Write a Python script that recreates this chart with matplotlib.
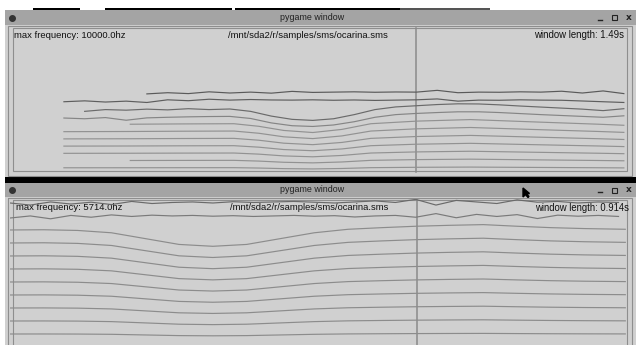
import numpy as np
import matplotlib
matplotlib.use("Agg")
import matplotlib.pyplot as plt
from matplotlib.patches import Rectangle, Polygon
from matplotlib import font_manager

# ---------------- data ----------------
FILE_NAME = "/mnt/sda2/r/samples/sms/ocarina.sms"
TOP_MAX_FREQ = 10000.0
TOP_WINDOW = 1.49
BOT_MAX_FREQ = 5714.0
BOT_WINDOW = 0.914

# top window: smooth partial tracks (time in s, frequency in Hz)
top_t_coarse = [0.13, 0.29, 0.41, 0.54, 0.60, 0.66, 0.73, 0.80, 0.87, 0.98, 1.11, 1.28, 1.42, 1.48]
top_h1 = [488, 490, 493, 495, 470, 430, 410, 440, 495, 520, 535, 510, 490, 480]
top_h2 = [np.nan, 980, 986, 990, 940, 860, 820, 880, 990, 1040, 1070, 1020, 980, 960]
top_h3 = [1464, 1470, 1479, 1485, 1410, 1290, 1230, 1320, 1485, 1560, 1605, 1530, 1470, 1440]
top_h4 = [1952, 1960, 1972, 1980, 1880, 1720, 1640, 1760, 1980, 2080, 2140, 2040, 1960, 1920]
top_h5 = [2440, 2450, 2465, 2475, 2350, 2150, 2050, 2200, 2475, 2600, 2675, 2550, 2450, 2400]
top_h6 = [2928, 2940, 2958, 2970, 2820, 2580, 2460, 2640, 2970, 3120, 3210, 3060, 2940, 2880]
top_h7 = [np.nan, 3430, 3451, 3465, 3290, 3010, 2870, 3080, 3465, 3640, 3745, 3570, 3430, 3360]

# top window: noisy partial tracks
top_t_fine = [0.13, 0.18, 0.23, 0.28, 0.33, 0.38, 0.43, 0.48, 0.53, 0.58, 0.63, 0.68, 0.73, 0.78,
              0.83, 0.88, 0.93, 0.98, 1.03, 1.08, 1.13, 1.18, 1.23, 1.28, 1.33, 1.38, 1.43, 1.48]
top_h8 = [3850, 3800, 3880, 3700, 3860, 3900, 3930, 3950, 3960, 3820, 3520, 3330, 3280, 3380,
          3600, 3900, 4080, 4160, 4220, 4270, 4270, 4220, 4150, 4080, 4020, 3960, 3900, 4000]
top_h9 = [np.nan, 4300, 4420, 4380, 4450, 4400, 4480, 4420, 4460, 4300, 3980, 3760, 3690, 3800,
          4080, 4420, 4600, 4680, 4760, 4810, 4800, 4740, 4660, 4590, 4520, 4450, 4350, 4480]
top_h10 = [4950, 5010, 4930, 4990, 4900, 5080, 5020, 5120, 5060, 5100, 5070, 5060, 5080, 5050,
           5070, 5040, 5060, 5080, 5140, 4990, 5060, 5050, 5080, 5060, 5050, 5000, 4950, 4900]
top_h11 = [np.nan, np.nan, np.nan, np.nan, 5480, 5560, 5500, 5620, 5540, 5600, 5530, 5650, 5580, 5600,
           5620, 5590, 5610, 5600, 5720, 5560, 5600, 5590, 5620, 5600, 5660, 5540, 5680, 5500]

# bottom window: smooth partial tracks
bot_t_coarse = [0.0, 0.05, 0.10, 0.15, 0.20, 0.25, 0.30, 0.35, 0.40, 0.45, 0.50, 0.55, 0.60,
                0.65, 0.70, 0.75, 0.80, 0.85, 0.91]
bot_h1 = [502, 503, 500, 490, 465, 440, 432, 440, 465, 490, 505, 512, 518, 522, 525, 518, 512, 508, 505]
bot_h2 = [1004, 1006, 1000, 980, 930, 880, 864, 880, 930, 980, 1010, 1024, 1036, 1044, 1050, 1036, 1024, 1016, 1010]
bot_h3 = [1506, 1509, 1500, 1470, 1395, 1320, 1296, 1320, 1395, 1470, 1515, 1536, 1554, 1566, 1575, 1554, 1536, 1524, 1515]
bot_h4 = [2008, 2012, 2000, 1960, 1860, 1760, 1728, 1760, 1860, 1960, 2020, 2048, 2072, 2088, 2100, 2072, 2048, 2032, 2020]
bot_h5 = [2510, 2515, 2500, 2450, 2325, 2200, 2160, 2200, 2325, 2450, 2525, 2560, 2590, 2610, 2625, 2590, 2560, 2540, 2525]
bot_h6 = [3012, 3018, 3000, 2940, 2790, 2640, 2592, 2640, 2790, 2940, 3030, 3072, 3108, 3132, 3150, 3108, 3072, 3048, 3030]
bot_h7 = [3514, 3521, 3500, 3430, 3255, 3080, 3024, 3080, 3255, 3430, 3535, 3584, 3626, 3654, 3675, 3626, 3584, 3556, 3535]
bot_h8 = [4016, 4024, 4000, 3920, 3720, 3520, 3456, 3520, 3720, 3920, 4040, 4096, 4144, 4176, 4200, 4144, 4096, 4064, 4040]
bot_h9 = [4518, 4527, 4500, 4410, 4185, 3960, 3888, 3960, 4185, 4410, 4545, 4608, 4662, 4698, 4725, 4662, 4608, 4572, 4545]

# bottom window: noisy partial tracks
bot_t_fine = [0.00, 0.03, 0.06, 0.09, 0.12, 0.15, 0.18, 0.21, 0.24, 0.27, 0.30, 0.33, 0.36, 0.39,
              0.42, 0.45, 0.48, 0.51, 0.54, 0.57, 0.60, 0.63, 0.66, 0.69, 0.72, 0.75, 0.78, 0.81,
              0.84, 0.87, 0.90]
bot_h10 = [4980, 5060, 4950, 5080, 5010, 5100, 5040, 5090, 5060, 5080, 5050, 5070, 5040, 5060,
           5080, 5050, 5070, 5020, 5060, 5080, 5010, 5150, 4990, 5120, 5040, 5110, 4960, 5090,
           5050, 5080, 5040]
bot_h11 = [5560, 5480, 5600, 5520, 5590, 5500, 5620, 5540, 5580, 5600, 5560, 5610, 5580, 5600,
           5620, 5590, 5560, 5600, 5640, 5580, 5700, 5480, 5660, 5600, 5540, 5680, 5590, 5620,
           5560, 5600, 5580]

# ---------------- figure ----------------
W, H = 636, 345
fig = plt.figure(figsize=(W / 100, H / 100), dpi=100)
fig.patch.set_facecolor("white")
bg = fig.add_axes([0, 0, 1, 1])
bg.set_xlim(0, W)
bg.set_ylim(H, 0)
bg.axis("off")

BODY = "#d0d0d0"
TITLE = "#a4a4a4"
FRAME = "#8e8e8e"
TXT = "#111111"
renderer = fig.canvas.get_renderer()

_names = {f.name for f in font_manager.fontManager.ttflist}
UI_FONT = "Liberation Sans Narrow" if "Liberation Sans Narrow" in _names else "Liberation Sans"


def fit_text(x, y, s, width, ha="left", color=TXT, family=UI_FONT):
    t = bg.text(x, y, s, ha=ha, va="center", fontsize=10, color=color, family=family, zorder=6)
    w = t.get_window_extent(renderer).width
    t.set_fontsize(10 * width / w)
    return t


# stray black strip at top
for x0, x1, c in [(33, 80, "black"), (105, 232, "black"), (235, 400, "black"), (400, 490, "#555555")]:
    bg.add_patch(Rectangle((x0, 7.5), x1 - x0, 2, color=c, lw=0))


def window(y_title, y_body_top, y_body_bot, y_inner_top, y_inner_bot):
    bg.add_patch(Rectangle((5, y_title), W - 5, y_body_top - y_title, color=TITLE, lw=0, zorder=1))
    bg.add_patch(Rectangle((5, y_body_top), W - 5, y_body_bot - y_body_top, color=BODY, lw=0, zorder=1))
    bg.add_patch(Rectangle((7.5, y_body_top + 0.5), 624, y_body_bot - y_body_top - 1.5,
                           fill=False, ec=FRAME, lw=0.8, zorder=2))
    bg.add_patch(Rectangle((12.5, y_inner_top), 614, y_inner_bot - y_inner_top,
                           fill=False, ec=FRAME, lw=0.8, zorder=2))
    yc = (y_title + y_body_top) / 2
    fit_text(312, yc, "pygame window", 64, ha="center", color="#202020")
    bg.plot([12], [yc], marker="o", ms=4, color="#333333", zorder=6)
    bg.plot([598, 602], [yc + 2, yc + 2], color="#222222", lw=1, zorder=6)
    bg.add_patch(Rectangle((612, yc - 2.5), 5, 5, fill=False, ec="#222222", lw=0.8, zorder=6))
    bg.text(629, yc, "x", ha="center", va="center", fontsize=6.5, color="#222222",
            family="DejaVu Sans", weight="bold", zorder=6)


window(10, 25, 177, 28, 171)
bg.add_patch(Rectangle((5, 177), W - 5, 6, color="black", lw=0, zorder=1))
window(183, 197, 360, 199.5, 360)

# cursor line
bg.plot([416, 416], [28, 172], color="#8a8a8a", lw=1.1, zorder=4)
bg.plot([417, 417], [199.5, 345], color="#8a8a8a", lw=1.1, zorder=4)

# mouse pointer
bg.add_patch(Polygon([[523, 188], [523, 197], [525.5, 194.5], [528, 197.5], [529, 196.5],
                      [526.5, 194], [529.5, 193.5]], closed=True, color="black", zorder=7))

# texts
fit_text(14, 35, "max frequency: %.1fhz" % TOP_MAX_FREQ, 112)
fit_text(228, 35, FILE_NAME, 159)
fit_text(624, 35, "window length: %gs" % TOP_WINDOW, 90, ha="right")
fit_text(16, 208, "max frequency: %.1fhz" % BOT_MAX_FREQ, 107)
fit_text(230, 208, FILE_NAME, 158)
fit_text(629, 208, "window length: %gs" % BOT_WINDOW, 94, ha="right")

# ---------------- track panels ----------------
top_ax = fig.add_axes([10 / W, (H - 175) / H, 618 / W, 148 / H])
top_ax.set_xlim(0, TOP_WINDOW)
top_ax.set_ylim(0, TOP_MAX_FREQ)
top_ax.axis("off")
top_ax.patch.set_alpha(0)

bot_ax = fig.add_axes([10 / W, (H - 347) / H, 618 / W, 148 / H])
bot_ax.set_xlim(0, BOT_WINDOW)
bot_ax.set_ylim(0, BOT_MAX_FREQ)
bot_ax.axis("off")
bot_ax.patch.set_alpha(0)

LW = 0.85
for tr in [top_h1, top_h2, top_h3, top_h4, top_h5, top_h6, top_h7]:
    top_ax.plot(top_t_coarse, tr, color="#929292", lw=LW, zorder=3)
for tr, c in [(top_h8, "#858585"), (top_h9, "#6a6a6a"), (top_h10, "#5e5e5e"), (top_h11, "#5a5a5a")]:
    top_ax.plot(top_t_fine, tr, color=c, lw=LW, zorder=3)

for tr in [bot_h1, bot_h2, bot_h3, bot_h4, bot_h5, bot_h6, bot_h7, bot_h8, bot_h9]:
    bot_ax.plot(bot_t_coarse, tr, color="#8c8c8c", lw=LW, zorder=3)
for tr, c in [(bot_h10, "#7a7a7a"), (bot_h11, "#6a6a6a")]:
    bot_ax.plot(bot_t_fine, tr, color=c, lw=LW, zorder=3)

fig.savefig("out.png", dpi=100, facecolor="white")
